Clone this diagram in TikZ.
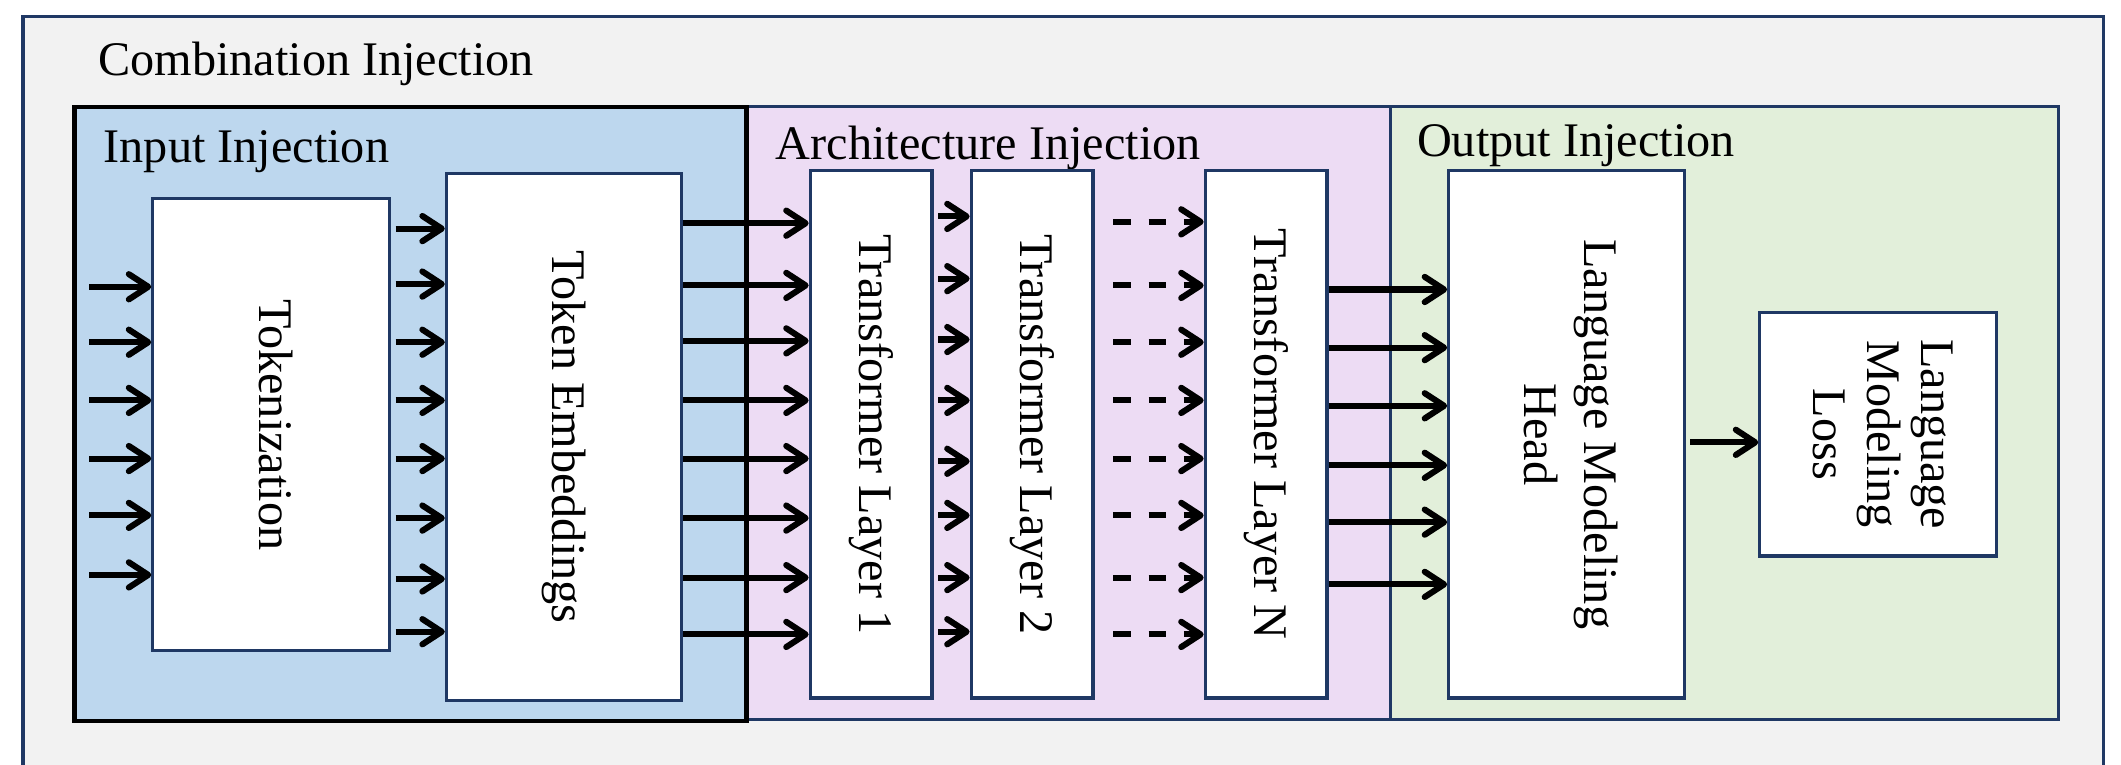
\documentclass[tikz,border=0pt]{standalone}
\usepackage{fontspec}
\setmainfont{Liberation Serif}
\usetikzlibrary{arrows.meta}
\definecolor{navy}{HTML}{1F3864}
\definecolor{outerbg}{HTML}{F2F2F2}
\definecolor{inblue}{HTML}{BDD7EE}
\definecolor{archlav}{HTML}{EDDCF4}
\definecolor{outgreen}{HTML}{E2EFDA}
\newcommand{\vtxt}[1]{\rotatebox{-90}{\begin{tabular}{@{}c@{}}#1\end{tabular}}}
\begin{document}
\begin{tikzpicture}[x=0.3pt,y=-0.3pt,
  every node/.style={font=\fontsize{10.7}{13.3}\selectfont},
  blk/.style={draw=navy, line width=0.7pt, fill=white, inner sep=0pt},
  region/.style={line width=0.7pt},
  lbl/.style={anchor=base west, inner sep=0pt},
  arr/.style={line width=1.35pt, -{Straight Barb[length=4.3pt,width=5.6pt,round]}},
  darr/.style={arr, dash pattern=on 3.9pt off 3.9pt},
]
\useasboundingbox (0,0) rectangle (1568,565);
\clip (0,0) rectangle (1568,565);
% outer
\draw[region, draw=navy, fill=outerbg] (17,12) rectangle (1555,600);
\node[lbl] (combl) at (72,56) {Combination Injection};
% regions
\draw[region, draw=navy, fill=archlav] (552,79) rectangle (1028,532);
\draw[region, draw=navy, fill=outgreen] (1028,79) rectangle (1522,532);
\draw[line width=1pt, draw=black, fill=inblue] (55,79) rectangle (552,533);
\node[lbl] (inl) at (76,120) {Input Injection};
\node[lbl] (archl) at (573,118) {Architecture Injection};
\node[lbl] (outl) at (1047,116) {Output Injection};
% blocks
\node[blk, minimum width=52.5pt, minimum height=100.2pt] (tok) at (200.5,314) {\vtxt{Tokenization}};
\node[blk, minimum width=52.2pt, minimum height=117pt] (te) at (417,323) {\vtxt{Token Embeddings}};
\node[blk, minimum width=27pt, minimum height=117pt] (tl1) at (644,321) {\vtxt{Transformer Layer 1}};
\node[blk, minimum width=27pt, minimum height=117pt] (tl2) at (763,321) {\vtxt{Transformer Layer 2}};
\node[blk, minimum width=27pt, minimum height=117pt] (tln) at (936,321) {\vtxt{Transformer Layer N}};
\node[blk, minimum width=52.2pt, minimum height=117pt] (lmh) at (1158,321) {\vtxt{Language Modeling\\Head}};
\node[blk, minimum width=52.5pt, minimum height=54pt] (loss) at (1388.5,321) {\rotatebox{-90}{\renewcommand\arraystretch{0.9}\begin{tabular}{@{}c@{}}Language\\Modeling\\Loss\end{tabular}}};
% arrows
\foreach \y in {212,253,296,339,381,425}
  \draw[arr] (tok.west |- 0,\y) ++(-46,0) -- (tok.west |- 0,\y);
\foreach \y in {169,210,253,296,339,383,428,467}
  \draw[arr, shorten <=1pt] (tok.east |- 0,\y) -- (te.west |- 0,\y);
\foreach \y in {165,211,252,296,339,383,427,469}
  \draw[arr] (te.east |- 0,\y) -- (tl1.west |- 0,\y);
\foreach \y in {160,206,251,296,341,381,427,467}
  \draw[arr, shorten <=1pt] (tl1.east |- 0,\y) -- (tl2.west |- 0,\y);
\foreach \y in {164,211,253,296,339,381,427,469}
  \draw[darr, shorten <=4.2pt] (tl2.east |- 0,\y) -- (tln.west |- 0,\y);
\foreach \y in {214,257,300,344,386,432}
  \draw[arr] (tln.east |- 0,\y) -- (lmh.west |- 0,\y);
\draw[arr, shorten <=1pt] (lmh.east |- 0,327) -- (loss.west |- 0,327);
\end{tikzpicture}
\end{document}
